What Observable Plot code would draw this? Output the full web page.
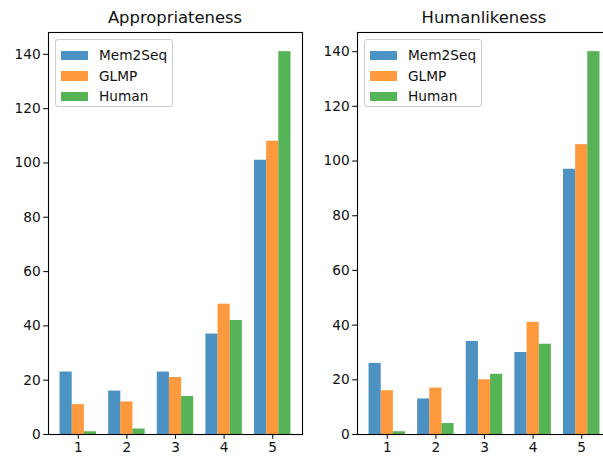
<!DOCTYPE html>
<html>
<head>
<meta charset="utf-8">
<script src="https://cdn.jsdelivr.net/npm/d3@7"></script>
<script src="https://cdn.jsdelivr.net/npm/@observablehq/plot@0.6"></script>
<style>
  html, body { margin: 0; padding: 0; background: #fff; width: 603px; height: 456px; overflow: hidden; }
  body { position: relative; font-family: "DejaVu Sans", sans-serif; }
  .panel { position: absolute; top: 0; }
  .panel svg { max-width: none !important; }
  .title { position: absolute; top: 8px; font-size: 16.4px; color: #111; text-align: center; white-space: nowrap; }
  .legend { position: absolute; top: 39px; border: 1px solid #ccc; border-radius: 3px; background: rgba(255,255,255,0.8); box-sizing: border-box; padding: 5px 0 0 5px; }
  .legend .row { display: flex; align-items: center; height: 20.6px; font-size: 13.7px; color: #111; }
  .legend .sw { width: 27px; height: 9.6px; margin-right: 11px; }
</style>
</head>
<body>
<script>
const categories = [1, 2, 3, 4, 5];
const seriesNames = ["Mem2Seq", "GLMP", "Human"];
const seriesColors = ["#1f77b4", "#ff7f0e", "#2ca02c"];

const appropMem2Seq = [23, 16, 23, 37, 101];
const appropGLMP = [11, 12, 21, 48, 108];
const appropHuman = [1, 2, 14, 42, 141];

const humanMem2Seq = [26, 13, 34, 30, 97];
const humanGLMP = [16, 17, 20, 41, 106];
const humanHuman = [1, 4, 22, 33, 140];

const yTicks = [0, 20, 40, 60, 80, 100, 120, 140];
const barWidth = 0.25;

function buildRows(lists) {
  const rows = [];
  lists.forEach((vals, si) => {
    vals.forEach((v, ci) => {
      const center = categories[ci] + (si - 1) * barWidth;
      rows.push({series: seriesNames[si], cat: categories[ci], value: v,
                 x1: center - barWidth / 2, x2: center + barWidth / 2});
    });
  });
  return rows;
}

function makePanel(lists, title, left, marginLeft, width) {
  const rows = buildRows(lists);
  const maxV = d3.max(rows, d => d.value);
  const lo = categories[0] - 1.5 * barWidth, hi = categories[categories.length - 1] + 1.5 * barWidth;
  const pad = (hi - lo) * 0.05;
  const chart = Plot.plot({
    width: width,
    height: 456,
    marginLeft: marginLeft,
    marginRight: width - marginLeft - 254,
    marginTop: 32,
    marginBottom: 22,
    style: {fontFamily: "DejaVu Sans, sans-serif", fontSize: "13.7px", color: "#111", background: "transparent", overflow: "visible", maxWidth: "none"},
    x: {type: "linear", domain: [lo - pad, hi + pad]},
    y: {domain: [0, maxV * 1.05]},
    color: {domain: seriesNames, range: seriesColors},
    marks: [
      Plot.rectY(rows, {x1: "x1", x2: "x2", y1: 0, y2: "value", fill: "series", fillOpacity: 0.8}),
      Plot.axisX({ticks: categories, tickFormat: d => String(d), tickSize: 4.8, tickPadding: 3, fontSize: 13.7, label: null, strokeWidth: 1.1}),
      Plot.axisY({ticks: yTicks, tickFormat: d => String(d), tickSize: 4.8, tickPadding: 3, fontSize: 13.7, label: null, strokeWidth: 1.1}),
      Plot.frame({stroke: "#000", strokeWidth: 1.1})
    ]
  });
  const wrap = document.createElement("div");
  wrap.className = "panel";
  wrap.style.left = left + "px";
  wrap.style.width = width + "px";
  wrap.appendChild(chart);
  document.body.appendChild(wrap);

  const t = document.createElement("div");
  t.className = "title";
  t.textContent = title;
  t.style.left = (left + marginLeft) + "px";
  t.style.width = "254px";
  document.body.appendChild(t);

  const lg = document.createElement("div");
  lg.className = "legend";
  lg.style.left = (left + marginLeft + 7) + "px";
  lg.style.width = "118px";
  lg.style.height = "68px";
  seriesNames.forEach((name, i) => {
    const r = document.createElement("div");
    r.className = "row";
    const sw = document.createElement("span");
    sw.className = "sw";
    sw.style.background = seriesColors[i];
    sw.style.opacity = 0.8;
    const tx = document.createElement("span");
    tx.textContent = name;
    r.appendChild(sw); r.appendChild(tx);
    lg.appendChild(r);
  });
  document.body.appendChild(lg);
}

makePanel([appropMem2Seq, appropGLMP, appropHuman], "Appropriateness", 0, 48, 310);
makePanel([humanMem2Seq, humanGLMP, humanHuman], "Humanlikeness", 310, 47, 309);
</script>
</body>
</html>
